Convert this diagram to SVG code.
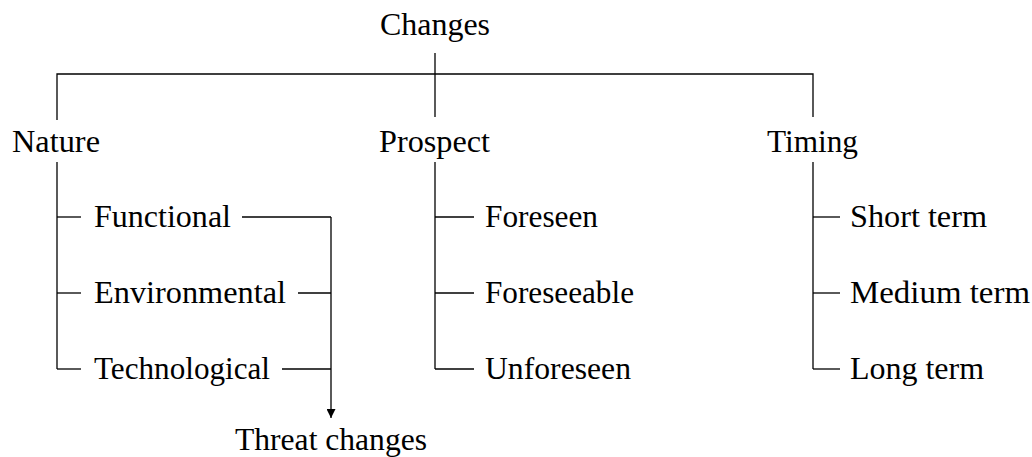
<svg xmlns="http://www.w3.org/2000/svg" width="1032" height="457" viewBox="0 0 1032 457">
<style>
text{font-family:"Liberation Serif","Times New Roman",serif;font-size:31px;fill:#000}
line,polyline{stroke:#000;stroke-width:1.3;fill:none}
</style>
<defs>
<marker id="ah" viewBox="0 0 10 10" refX="10" refY="5" markerWidth="10" markerHeight="9" markerUnits="userSpaceOnUse" orient="auto">
<path d="M0,0 L10,5 L0,10 z" fill="#000"/>
</marker>
</defs>
<rect width="1032" height="457" fill="#fff"/>
<g id="connectors">
<line x1="435" y1="53" x2="435" y2="117"/>
<polyline points="57,120 57,74 813,74 813,117"/>
<line x1="57" y1="162" x2="57" y2="369"/>
<line x1="57" y1="217" x2="81" y2="217"/>
<line x1="57" y1="293" x2="81" y2="293"/>
<line x1="57" y1="369" x2="81" y2="369"/>
<line x1="435" y1="162" x2="435" y2="369"/>
<line x1="435" y1="217" x2="474" y2="217"/>
<line x1="435" y1="293" x2="474" y2="293"/>
<line x1="435" y1="369" x2="474" y2="369"/>
<line x1="813" y1="162" x2="813" y2="369"/>
<line x1="813" y1="217" x2="840" y2="217"/>
<line x1="813" y1="293" x2="840" y2="293"/>
<line x1="813" y1="369" x2="840" y2="369"/>
<line x1="242" y1="217" x2="331" y2="217"/>
<line x1="298" y1="293" x2="331" y2="293"/>
<line x1="282" y1="369" x2="331" y2="369"/>
<line x1="331" y1="217" x2="331" y2="418" marker-end="url(#ah)"/>
</g>
<g id="changes"><text x="380" y="35" textLength="110" lengthAdjust="spacingAndGlyphs">Changes</text></g>
<g id="nature"><text x="12" y="152" textLength="88" lengthAdjust="spacingAndGlyphs">Nature</text></g>
<g id="prospect"><text x="379" y="152" textLength="111" lengthAdjust="spacingAndGlyphs">Prospect</text></g>
<g id="timing"><text x="767" y="152" textLength="91" lengthAdjust="spacingAndGlyphs">Timing</text></g>
<g id="functional"><text x="94" y="227" textLength="137" lengthAdjust="spacingAndGlyphs">Functional</text></g>
<g id="environmental"><text x="94" y="303" textLength="192" lengthAdjust="spacingAndGlyphs">Environmental</text></g>
<g id="technological"><text x="94" y="379" textLength="176" lengthAdjust="spacingAndGlyphs">Technological</text></g>
<g id="foreseen"><text x="485" y="227" textLength="113" lengthAdjust="spacingAndGlyphs">Foreseen</text></g>
<g id="foreseeable"><text x="485" y="303" textLength="149" lengthAdjust="spacingAndGlyphs">Foreseeable</text></g>
<g id="unforeseen"><text x="485" y="379" textLength="146" lengthAdjust="spacingAndGlyphs">Unforeseen</text></g>
<g id="short-term"><text x="850" y="227" textLength="137" lengthAdjust="spacingAndGlyphs">Short term</text></g>
<g id="medium-term"><text x="850" y="303" textLength="180" lengthAdjust="spacingAndGlyphs">Medium term</text></g>
<g id="long-term"><text x="850" y="379" textLength="134" lengthAdjust="spacingAndGlyphs">Long term</text></g>
<g id="threat-changes"><text x="235" y="450" textLength="192" lengthAdjust="spacingAndGlyphs">Threat changes</text></g>
</svg>
